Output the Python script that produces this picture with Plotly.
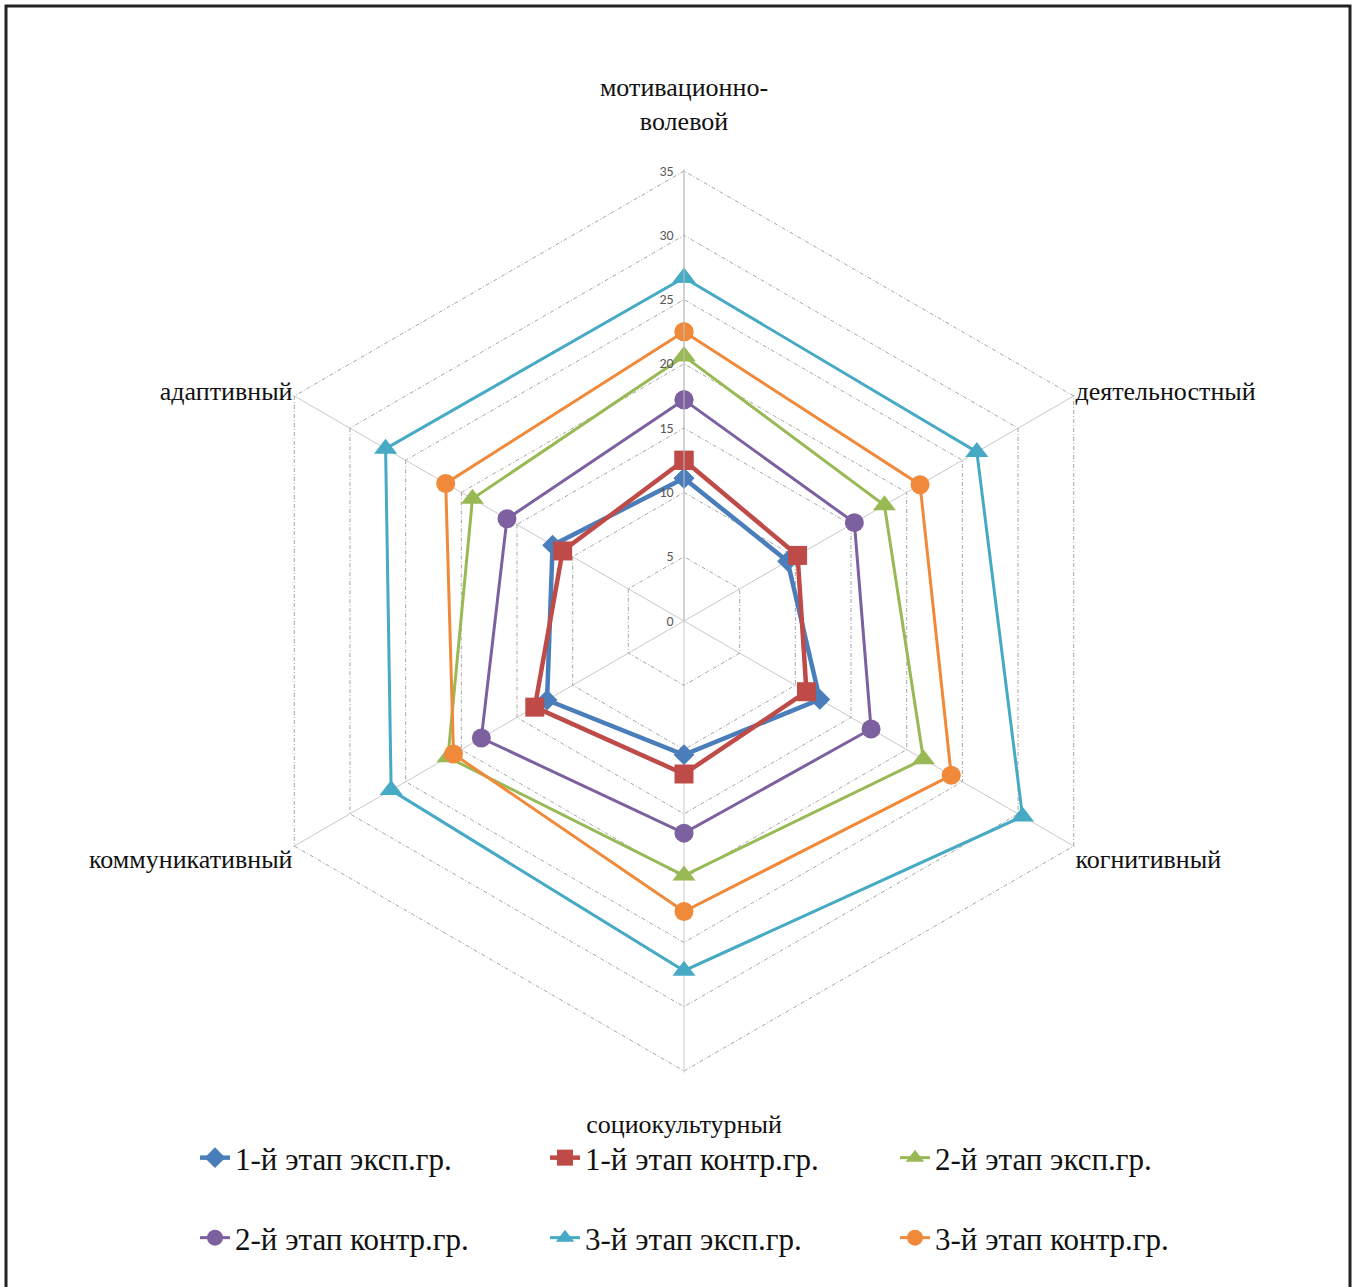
import plotly.graph_objects as go

# Axes of the radar (components)
categories = [
    "мотивационно-<br>волевой<br> ",
    "деятельностный",
    "когнитивный",
    "<br>социокультурный",
    "коммуникативный",
    "адаптивный",
]

# Scores per stage and group
stage1_exp = [11.1, 9.3, 12.2, 10.4, 12.3, 11.8]
stage1_ctrl = [12.5, 10.2, 11.0, 11.9, 13.4, 10.9]
stage2_exp = [20.6, 18.0, 21.5, 19.8, 21.2, 19.0]
stage2_ctrl = [17.2, 15.3, 16.8, 16.5, 18.2, 15.9]
stage3_exp = [26.7, 26.3, 30.4, 27.2, 26.3, 26.8]
stage3_ctrl = [22.5, 21.2, 24.0, 22.6, 20.7, 21.4]

series_names = [
    "1-й этап эксп.гр.",
    "1-й этап контр.гр.",
    "2-й этап эксп.гр.",
    "2-й этап контр.гр.",
    "3-й этап эксп.гр.",
    "3-й этап контр.гр.",
]

radial_ticks = [0, 5, 10, 15, 20, 25, 30, 35]

series = [stage1_exp, stage1_ctrl, stage2_exp, stage2_ctrl, stage3_exp, stage3_ctrl]
colors = ["#4A7EBB", "#BE4B48", "#98B954", "#7D60A0", "#46AAC5", "#F08A3A"]
symbols = ["diamond", "square", "triangle-up", "circle", "triangle-up", "circle"]
marker_sizes = [16, 19, 20, 19, 20, 19]
line_widths = [4.5, 4.5, 3, 3, 3, 3]
legend_ids = ["legend", "legend", "legend", "legend2", "legend2", "legend2"]

W, H = 1357, 1287
CX, CY = 684, 621
R_MAX = 35.12          # slightly past 35 so the outer dashed ring is drawn
R35 = 450              # pixel radius of the 35 ring
R = R35 * R_MAX / 35

fig = go.Figure()
for name, vals, col, sym, ms, lw, lg in zip(
    series_names, series, colors, symbols, marker_sizes, line_widths, legend_ids
):
    fig.add_trace(
        go.Scatterpolar(
            r=vals + vals[:1],
            theta=categories + categories[:1],
            mode="lines+markers",
            name=name,
            line=dict(color=col, width=lw),
            marker=dict(symbol=sym, size=ms, color=col),
            legend=lg,
        )
    )

serif = "Times New Roman, Liberation Serif, serif"
legend_common = dict(
    orientation="h",
    x=195 / W,
    xanchor="left",
    yanchor="middle",
    entrywidth=305,
    entrywidthmode="pixels",
    itemwidth=30,
    bgcolor="rgba(0,0,0,0)",
    font=dict(family=serif, size=31, color="#111111"),
)

fig.update_layout(
    width=W,
    height=H,
    margin=dict(l=0, r=0, t=0, b=0),
    paper_bgcolor="white",
    polar=dict(
        domain=dict(
            x=[(CX - R) / W, (CX + R) / W],
            y=[1 - (CY + R) / H, 1 - (CY - R) / H],
        ),
        gridshape="linear",
        bgcolor="white",
        radialaxis=dict(
            range=[0, R_MAX],
            tickvals=radial_ticks,
            angle=90,
            side="counterclockwise",
            tickangle=90,
            showline=True,
            linecolor="#BFBFBF",
            linewidth=1,
            gridcolor="#A6A6A6",
            gridwidth=1,
            griddash="4px,2px,1px,2px",
            ticks="outside",
            ticklen=5,
            tickcolor="rgba(0,0,0,0)",
            tickfont=dict(family="Calibri, Carlito, Liberation Sans, sans-serif", size=14, color="#595959"),
        ),
        angularaxis=dict(
            rotation=90,
            direction="clockwise",
            showline=False,
            gridcolor="#C8C8C8",
            gridwidth=1,
            ticks="",
            tickfont=dict(family=serif, size=26, color="#111111"),
        ),
    ),
    legend=dict(legend_common, y=1 - 1158 / H),
    legend2=dict(legend_common, y=1 - 1238 / H),
    shapes=[
        dict(
            type="rect",
            xref="paper",
            yref="paper",
            x0=6 / W,
            x1=1350 / W,
            y0=-0.02,
            y1=1 - 6 / H,
            line=dict(color="#222222", width=3),
            fillcolor="rgba(0,0,0,0)",
            layer="below",
        )
    ],
)

fig.write_html("out.html")
